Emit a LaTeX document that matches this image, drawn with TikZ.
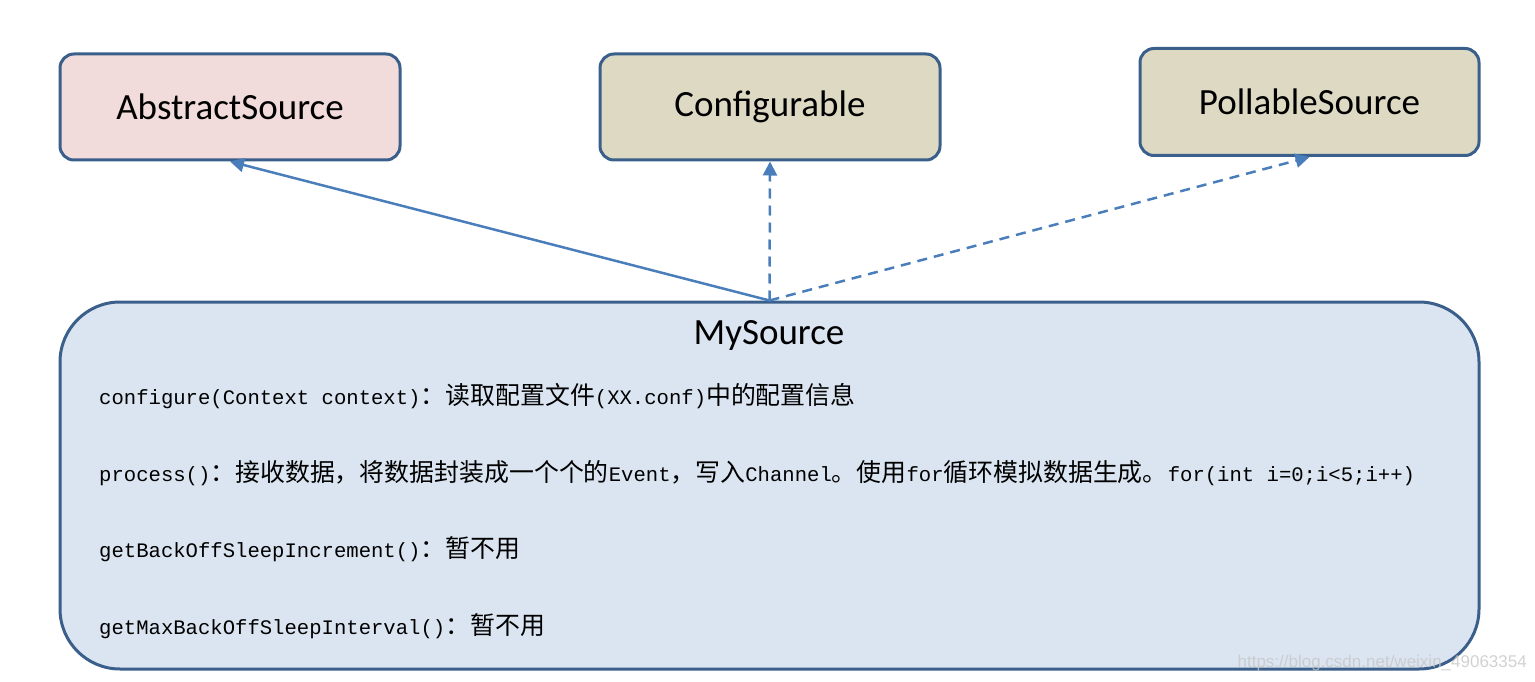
\documentclass[tikz,border=0pt]{standalone}
\usepackage{fontspec}
\setmainfont{Carlito}
\setmonofont{Liberation Mono}
\newfontfamily\cjk{Noto Sans CJK SC}
\newfontfamily\wmfont{Liberation Sans}
\usetikzlibrary{arrows.meta}
\definecolor{bordercol}{HTML}{3A5F8B}
\definecolor{arrowcol}{HTML}{4A7EBB}
\definecolor{pinkfill}{HTML}{F2DCDB}
\definecolor{tanfill}{HTML}{DDD9C3}
\definecolor{bluefill}{HTML}{DBE5F1}
\newcommand{\cj}[1]{{\cjk\fontsize{24.9}{28}\selectfont #1}}
\tikzset{
  classbox/.style={draw=bordercol, line width=3pt, rounded corners=14pt,
    minimum width=340pt, minimum height=106pt, inner sep=0pt,
    font=\fontsize{37}{44}\selectfont},
  bigbox/.style={draw=bordercol, fill=bluefill, line width=3pt, rounded corners=60pt,
    minimum width=1419pt, minimum height=367pt, inner sep=0pt},
  titletext/.style={font=\fontsize{37}{44}\selectfont, inner sep=0pt},
  codeline/.style={anchor=west, inner sep=0pt, font=\ttfamily\fontsize{20.6}{24}\selectfont},
  inherit/.style={draw=arrowcol, line width=2.5pt, -{Triangle[length=14pt,width=14pt]}},
  realize/.style={inherit, dash pattern=on 10pt off 7pt},
}
\begin{document}
\begin{tikzpicture}[x=1pt,y=-1pt]
\useasboundingbox (0,0) rectangle (1535,682);
\node[classbox, fill=pinkfill] (as) at (230,107) {AbstractSource};
\node[classbox, fill=tanfill] (cf) at (770,107) {Configurable};
\node[classbox, fill=tanfill, minimum width=339pt, minimum height=107pt] (ps) at (1309.5,102) {PollableSource};
\node[bigbox] (my) at (769.5,485.5) {};
\node[titletext] (mt) at (769,335) {MySource};
\node[codeline] (l1) at (99,396) {configure(Context context)\cj{：读取配置文件}(XX.conf)\cj{中的配置信息}};
\node[codeline] (l2) at (99,473) {process()\cj{：接收数据，将数据封装成一个个的}Event\cj{，写入}Channel\cj{。使用}for\cj{循环模拟数据生成。}for(int i=0;i<5;i++)};
\node[codeline] (l3) at (99,549) {getBackOffSleepIncrement()\cj{：暂不用}};
\node[codeline] (l4) at (99,626) {getMaxBackOffSleepInterval()\cj{：暂不用}};
\draw[inherit] (my.north) -- (as.south);
\draw[realize] (my.north) -- (cf.south);
\draw[realize] (my.north) -- (ps.south);
\node[anchor=east, inner sep=0pt, text=gray!45, text opacity=0.8, font=\wmfont\fontsize{17}{20}\selectfont] (wm) at (1527,663) {https://blog.csdn.net/weixin\_49063354};
\end{tikzpicture}
\end{document}
